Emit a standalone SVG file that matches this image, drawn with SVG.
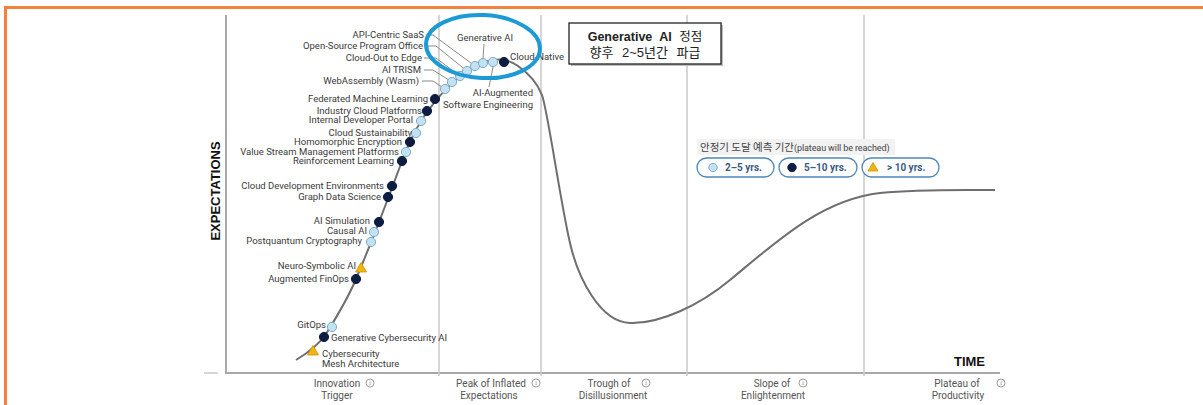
<svg xmlns="http://www.w3.org/2000/svg" width="1203" height="405" viewBox="0 0 1203 405">
  <style>
    .lbl { font-family: Roboto, "Liberation Sans", sans-serif; font-size: 9.5px; fill: #3a3a3a; }
    .end { text-anchor: end; }
    .phase { font-family: Roboto, "Liberation Sans", sans-serif; font-size: 10px; fill: #555; text-anchor: middle; }
    .axis { font-family: "Liberation Sans", Arial, sans-serif; font-size: 13px; font-weight: bold; fill: #111; }
    .grid { stroke: #c9c9c9; stroke-width: 1.5; fill: none; }
    .lead { stroke: #8a8a8a; stroke-width: 1; fill: none; }
    .lt { fill: #c2e2f4; stroke: #7fa9c4; stroke-width: 1; }
    .dk { fill: #0d1d42; stroke: #0d1d42; stroke-width: 1; }
    .tri { fill: #f0b512; stroke: #c89400; stroke-width: 0.8; }
    .pill { fill: #fff; stroke: #4f87b8; stroke-width: 1.3; }
    .pilltxt { font-family: Roboto, "Liberation Sans", sans-serif; font-size: 10px; font-weight: bold; fill: #3b5b86; }
    .info { fill: none; stroke: #888; stroke-width: 0.8; }
    .infoi { font-family: "Liberation Serif", serif; font-size: 6px; fill: #777; text-anchor: middle; }
  </style>
  <defs>
    <circle id="dotL" r="4.6" class="lt"/>
    <circle id="dotD" r="4.6" class="dk"/>
    <path id="triM" d="M0,-5.5 L5.5,4 L-5.5,4 Z" class="tri"/>
    <g id="infoIcon">
      <circle r="4" class="info"/>
      <text y="2.2" class="infoi">i</text>
    </g>
  </defs>

  <rect width="1203" height="405" fill="#fff"/>

  <!-- frame -->
  <line x1="4" y1="7.5" x2="1203" y2="7.5" stroke="#f5823c" stroke-width="3"/>
  <line x1="5.5" y1="6" x2="5.5" y2="405" stroke="#f5823c" stroke-width="3"/>

  <!-- axes and phase dividers -->
  <g id="axes">
    <line x1="226" y1="15" x2="226" y2="373" stroke="#a8a8a8" stroke-width="2"/>
    <line x1="225" y1="373" x2="1000" y2="373" stroke="#a8a8a8" stroke-width="2"/>
    <line x1="204" y1="373" x2="218" y2="373" stroke="#c8c8c8" stroke-width="1.5"/>
    <line class="grid" x1="439" y1="15" x2="439" y2="376"/>
    <line class="grid" x1="541" y1="15" x2="541" y2="376"/>
    <line class="grid" x1="687" y1="15" x2="687" y2="376"/>
    <line class="grid" x1="864" y1="15" x2="864" y2="376"/>
    <text class="axis" transform="translate(220,191) rotate(-90)" text-anchor="middle">EXPECTATIONS</text>
    <text class="axis" x="985" y="366" text-anchor="end">TIME</text>
  </g>

  <!-- phase names -->
  <g id="phases">
    <text class="phase" x="337" y="387">Innovation</text>
    <text class="phase" x="337" y="399">Trigger</text>
    <use href="#infoIcon" x="370" y="383"/>
    <text class="phase" x="491" y="387">Peak of Inflated</text>
    <text class="phase" x="489" y="399">Expectations</text>
    <use href="#infoIcon" x="536" y="383"/>
    <text class="phase" x="609" y="387">Trough of</text>
    <text class="phase" x="613" y="399">Disillusionment</text>
    <use href="#infoIcon" x="646" y="383"/>
    <text class="phase" x="772" y="387">Slope of</text>
    <text class="phase" x="773" y="399">Enlightenment</text>
    <use href="#infoIcon" x="803" y="383"/>
    <text class="phase" x="957" y="387">Plateau of</text>
    <text class="phase" x="958" y="399">Productivity</text>
    <use href="#infoIcon" x="1001" y="383"/>
  </g>

  <!-- hype curve and leader lines -->
  <g id="connectors">
    <path id="curve" d="M296,360 C306,354 318,346 326,334 C336,318 348,298 356,279 C364,260 372,240 379,222 C386,204 395,180 402,161 C409,142 417,126 427,112 C437,98 450,83 467,71 C484,59 503,55 518,66 C528,73 537,82 542,95 C548,112 560,200 570,243 C578,278 600,322 630,323 C660,324 700,305 730,280 C775,243 820,200 880,193 C920,189 960,190 995,190" fill="none" stroke="#6e6e6e" stroke-width="2"/>
    <path class="lead" d="M426,35 H433 L475,66"/>
    <path class="lead" d="M425,46 H436 L467,71"/>
    <path class="lead" d="M424,58 H436 L460,76"/>
    <path class="lead" d="M424,70 H433 L452,82"/>
    <path class="lead" d="M422,81 H433 L445,89"/>
    <path class="lead" d="M484,44 L483,58"/>
    <path class="lead" d="M493,67 L489,87"/>
  </g>

  <!-- technology markers -->
  <g id="n-cybersecurity-mesh"><use href="#triM" x="313" y="351"/><text class="lbl" x="322" y="357">Cybersecurity</text><text class="lbl" x="322" y="367">Mesh Architecture</text></g>
  <g id="n-gen-cyber-ai"><use href="#dotD" x="324" y="337"/><text class="lbl" x="331" y="341">Generative Cybersecurity AI</text></g>
  <g id="n-gitops"><use href="#dotL" x="332" y="327"/><text class="lbl end" x="326" y="328">GitOps</text></g>
  <g id="n-augmented-finops"><use href="#dotD" x="356" y="279"/><text class="lbl end" x="349" y="282">Augmented FinOps</text></g>
  <g id="n-neuro-symbolic"><use href="#triM" x="361" y="268"/><text class="lbl end" x="356" y="269">Neuro-Symbolic AI</text></g>
  <g id="n-postquantum"><use href="#dotL" x="371" y="242"/><text class="lbl end" x="362" y="244">Postquantum Cryptography</text></g>
  <g id="n-causal-ai"><use href="#dotL" x="374" y="232"/><text class="lbl end" x="367" y="234">Causal AI</text></g>
  <g id="n-ai-simulation"><use href="#dotD" x="379" y="222"/><text class="lbl end" x="370" y="224">AI Simulation</text></g>
  <g id="n-graph-data-science"><use href="#dotD" x="388" y="197"/><text class="lbl end" x="381" y="200">Graph Data Science</text></g>
  <g id="n-cloud-dev-env"><use href="#dotD" x="392" y="186"/><text class="lbl end" x="384" y="189">Cloud Development Environments</text></g>
  <g id="n-reinforcement"><use href="#dotD" x="402" y="161"/><text class="lbl end" x="394" y="164">Reinforcement Learning</text></g>
  <g id="n-vsmp"><use href="#dotL" x="406" y="152"/><text class="lbl end" x="399" y="155">Value Stream Management Platforms</text></g>
  <g id="n-homomorphic"><use href="#dotD" x="410" y="142"/><text class="lbl end" x="402" y="145">Homomorphic Encryption</text></g>
  <g id="n-cloud-sustainability"><use href="#dotL" x="416" y="133"/><text class="lbl end" x="412" y="136">Cloud Sustainability</text></g>
  <g id="n-internal-dev-portal"><use href="#dotL" x="421" y="121"/><text class="lbl end" x="413" y="123">Internal Developer Portal</text></g>
  <g id="n-industry-cloud"><use href="#dotD" x="427" y="111"/><text class="lbl end" x="422" y="114">Industry Cloud Platforms</text></g>
  <g id="n-federated-ml"><use href="#dotD" x="435" y="99"/><text class="lbl end" x="428" y="102">Federated Machine Learning</text></g>
  <g id="n-wasm"><use href="#dotL" x="445" y="89"/><text class="lbl end" x="419" y="84">WebAssembly (Wasm)</text></g>
  <g id="n-ai-trism"><use href="#dotL" x="452" y="82"/><text class="lbl end" x="421" y="73">AI TRISM</text></g>
  <g id="n-cloud-out-edge"><use href="#dotL" x="460" y="76"/><text class="lbl end" x="422" y="61">Cloud-Out to Edge</text></g>
  <g id="n-ospo"><use href="#dotL" x="467" y="71"/><text class="lbl end" x="423" y="49">Open-Source Program Office</text></g>
  <g id="n-api-saas"><use href="#dotL" x="475" y="66"/><text class="lbl end" x="424" y="38">API-Centric SaaS</text></g>
  <g id="n-generative-ai"><use href="#dotL" x="483" y="63"/><text class="lbl" x="485" y="41" text-anchor="middle">Generative AI</text></g>
  <g id="n-ai-aug-se"><use href="#dotL" x="493" y="62"/><text class="lbl end" x="533" y="96">AI-Augmented</text><text class="lbl end" x="533" y="108">Software Engineering</text></g>
  <g id="n-cloud-native"><use href="#dotD" x="504" y="62"/><text class="lbl" x="510" y="60">Cloud-Native</text></g>

  <!-- highlight ring around the peak -->
  <ellipse id="highlight" cx="483" cy="46.5" rx="57" ry="31.5" transform="rotate(3 483 46.5)" fill="none" stroke="#1c9ad6" stroke-width="4"/>

  <!-- callout -->
  <g id="callout">
    <rect x="571" y="25" width="152" height="41" fill="#bdbdbd"/>
    <rect x="569" y="23" width="152" height="41" fill="#fff" stroke="#222" stroke-width="1.3"/>
    <text x="645" y="41" text-anchor="middle" font-family="'Liberation Sans', 'Noto Sans CJK KR', sans-serif" font-size="12.5" fill="#222" word-spacing="4"><tspan font-weight="bold">Generative AI</tspan> 정점</text>
    <text x="645" y="57" text-anchor="middle" font-family="'Liberation Sans', 'Noto Sans CJK KR', sans-serif" font-size="13" fill="#222" word-spacing="5">향후 2~5년간 파급</text>
  </g>

  <!-- legend -->
  <g id="legend">
    <rect x="697" y="139" width="198" height="16" fill="#f2f2f2"/>
    <text x="700" y="151" font-family="'Noto Sans CJK KR', sans-serif" font-size="10.5" fill="#444">안정기 도달 예측 기간<tspan font-family="Roboto, sans-serif" font-size="9" letter-spacing="-0.1">(plateau will be reached)</tspan></text>
    <g id="legend-2-5">
      <rect class="pill" x="697" y="158" width="77" height="19" rx="9.5"/>
      <circle cx="713" cy="167.5" r="4.2" class="lt"/>
      <text class="pilltxt" x="725" y="171">2–5 yrs.</text>
    </g>
    <g id="legend-5-10">
      <rect class="pill" x="779" y="158" width="78" height="19" rx="9.5"/>
      <circle cx="792" cy="167.5" r="4.2" class="dk"/>
      <text class="pilltxt" x="804" y="171">5–10 yrs.</text>
    </g>
    <g id="legend-10">
      <rect class="pill" x="862" y="158" width="77" height="19" rx="9.5"/>
      <path d="M873,162.5 L878,171 L868,171 Z" class="tri"/>
      <text class="pilltxt" x="887" y="171">&gt; 10 yrs.</text>
    </g>
  </g>
</svg>
